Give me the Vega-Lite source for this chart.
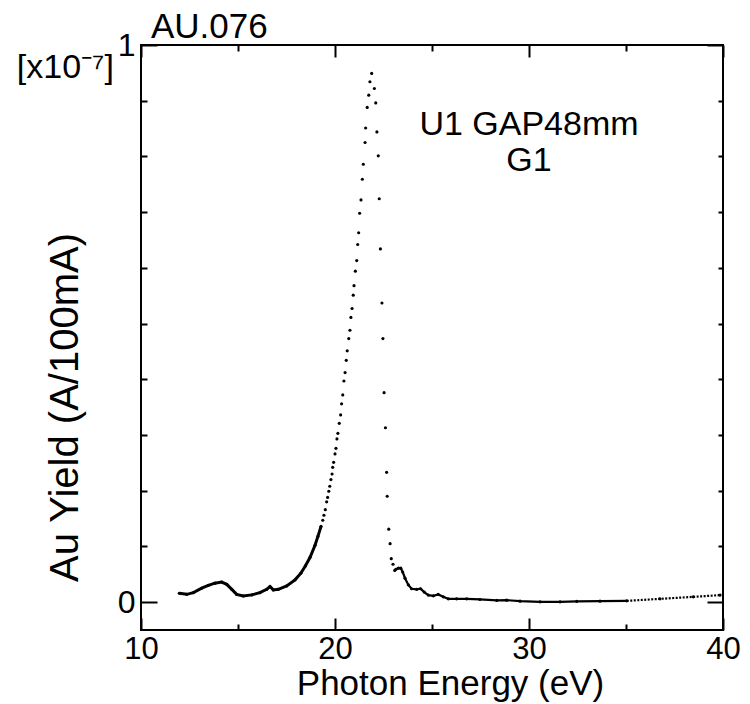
{
  "$schema": "https://vega.github.io/schema/vega-lite/v6.json",
  "width": 582,
  "height": 585,
  "autosize": {"type": "none"},
  "padding": {"left": 141, "top": 45, "right": 27, "bottom": 74},
  "background": "white",
  "config": {"view": {"stroke": "black", "strokeWidth": 2}, "font": "Liberation Sans"},
  "title": {"text": "AU.076", "anchor": "start", "frame": "group", "fontSize": 35, "fontWeight": "normal", "font": "Liberation Sans", "dx": 10, "offset": -16, "color": "black"},
  "data": {"values": [
    {"e": 11.97, "y": 0.016}, {"e": 12.36, "y": 0.014}, {"e": 12.70, "y": 0.017}, {"e": 13.13, "y": 0.025},
    {"e": 13.47, "y": 0.030}, {"e": 13.81, "y": 0.034}, {"e": 14.16, "y": 0.036}, {"e": 14.42, "y": 0.032},
    {"e": 14.68, "y": 0.023}, {"e": 14.93, "y": 0.014}, {"e": 15.27, "y": 0.011}, {"e": 15.71, "y": 0.013},
    {"e": 16.13, "y": 0.017}, {"e": 16.48, "y": 0.023}, {"e": 16.65, "y": 0.028}, {"e": 16.82, "y": 0.022},
    {"e": 17.08, "y": 0.023}, {"e": 17.51, "y": 0.029}, {"e": 17.94, "y": 0.040}, {"e": 18.24, "y": 0.052},
    {"e": 18.47, "y": 0.065}, {"e": 18.71, "y": 0.080}, {"e": 18.97, "y": 0.102}, {"e": 19.12, "y": 0.118},
    {"e": 19.28, "y": 0.136},
    {"e": 19.37, "y": 0.147}, {"e": 19.43, "y": 0.156}, {"e": 19.50, "y": 0.166}, {"e": 19.57, "y": 0.180},
    {"e": 19.62, "y": 0.188}, {"e": 19.68, "y": 0.199}, {"e": 19.73, "y": 0.208}, {"e": 19.79, "y": 0.220},
    {"e": 19.85, "y": 0.230}, {"e": 19.88, "y": 0.242}, {"e": 19.93, "y": 0.251}, {"e": 20.00, "y": 0.266},
    {"e": 20.05, "y": 0.276}, {"e": 20.10, "y": 0.293}, {"e": 20.15, "y": 0.303}, {"e": 20.22, "y": 0.321},
    {"e": 20.29, "y": 0.336}, {"e": 20.34, "y": 0.356}, {"e": 20.40, "y": 0.372}, {"e": 20.46, "y": 0.397},
    {"e": 20.52, "y": 0.412}, {"e": 20.58, "y": 0.434}, {"e": 20.63, "y": 0.451}, {"e": 20.71, "y": 0.473},
    {"e": 20.77, "y": 0.488}, {"e": 20.82, "y": 0.511}, {"e": 20.88, "y": 0.527}, {"e": 20.94, "y": 0.551},
    {"e": 20.98, "y": 0.568}, {"e": 21.05, "y": 0.594}, {"e": 21.12, "y": 0.613}, {"e": 21.17, "y": 0.642},
    {"e": 21.22, "y": 0.663}, {"e": 21.27, "y": 0.698}, {"e": 21.34, "y": 0.722}, {"e": 21.41, "y": 0.759},
    {"e": 21.46, "y": 0.786}, {"e": 21.55, "y": 0.825}, {"e": 21.58, "y": 0.851}, {"e": 21.66, "y": 0.888},
    {"e": 21.74, "y": 0.910}, {"e": 21.80, "y": 0.934}, {"e": 21.89, "y": 0.949},
    {"e": 22.03, "y": 0.922}, {"e": 22.10, "y": 0.896}, {"e": 22.16, "y": 0.844}, {"e": 22.23, "y": 0.801},
    {"e": 22.28, "y": 0.724}, {"e": 22.34, "y": 0.634}, {"e": 22.42, "y": 0.537}, {"e": 22.47, "y": 0.473},
    {"e": 22.53, "y": 0.376}, {"e": 22.60, "y": 0.313}, {"e": 22.66, "y": 0.233}, {"e": 22.69, "y": 0.190},
    {"e": 22.77, "y": 0.131}, {"e": 22.84, "y": 0.105}, {"e": 22.90, "y": 0.078}, {"e": 22.99, "y": 0.068},
    {"e": 23.08, "y": 0.057}, {"e": 23.14, "y": 0.059}, {"e": 23.27, "y": 0.061}, {"e": 23.39, "y": 0.061},
    {"e": 23.49, "y": 0.054}, {"e": 23.61, "y": 0.043}, {"e": 23.78, "y": 0.031}, {"e": 23.95, "y": 0.024},
    {"e": 24.21, "y": 0.023}, {"e": 24.41, "y": 0.024}, {"e": 24.60, "y": 0.018}, {"e": 24.81, "y": 0.0126},
    {"e": 25.07, "y": 0.0113}, {"e": 25.32, "y": 0.0138}, {"e": 25.58, "y": 0.0095}, {"e": 25.84, "y": 0.0059},
    {"e": 26.27, "y": 0.0059}, {"e": 26.79, "y": 0.0059}, {"e": 27.47, "y": 0.0048}, {"e": 28.34, "y": 0.0031},
    {"e": 28.85, "y": 0.0036}, {"e": 29.54, "y": 0.0018}, {"e": 30.57, "y": 0.0005}, {"e": 31.60, "y": 0.0005},
    {"e": 32.46, "y": 0.0013}, {"e": 33.66, "y": 0.0018}, {"e": 35.04, "y": 0.0023}, {"e": 36.75, "y": 0.0059},
    {"e": 38.47, "y": 0.0095}, {"e": 39.85, "y": 0.0126}
  ]},
  "layer": [
    {
      "mark": {"type": "point", "filled": true, "color": "black", "size": 10, "opacity": 1},
      "encoding": {
        "x": {"field": "e", "type": "quantitative",
          "scale": {"domain": [10, 40], "nice": false, "zero": false},
          "axis": {"orient": "bottom", "values": [10, 15, 20, 25, 30, 35, 40],
            "labelExpr": "datum.value % 10 === 0 ? datum.label : ''",
            "domain": false, "grid": false, "tickColor": "black", "tickWidth": 2,
            "tickSize": {"condition": {"test": "datum.value % 10 === 0", "value": -12}, "value": -6},
            "labelFontSize": 31, "labelFont": "Liberation Sans", "labelColor": "black", "labelPadding": 16,
            "labelFlush": false, "labelOverlap": false,
            "title": "Photon Energy (eV)", "titleFontSize": 35, "titleFontWeight": "normal", "titleColor": "black",
            "titleFont": "Liberation Sans", "titleX": 309, "titleY": 64, "titleBaseline": "alphabetic"}},
        "y": {"field": "y", "type": "quantitative",
          "scale": {"domain": [-0.05, 1.0], "nice": false, "zero": false},
          "axis": {"orient": "left", "values": [0, 0.1, 0.2, 0.3, 0.4, 0.5, 0.6, 0.7, 0.8, 0.9, 1],
            "labelExpr": "datum.value === 0 ? '0' : (datum.value === 1 ? '1' : '')",
            "domain": false, "grid": false, "tickColor": "black", "tickWidth": 2,
            "tickSize": {"condition": {"test": "datum.value === 0 || datum.value === 1", "value": -16}, "value": -6},
            "labelFontSize": 32, "labelFont": "Liberation Sans", "labelColor": "black", "labelPadding": 22,
            "labelOverlap": false, "labelFlush": false,
            "title": "Au Yield (A/100mA)", "titleFontSize": 40, "titleFontWeight": "normal", "titleColor": "black",
            "titleFont": "Liberation Sans", "titleX": -76, "titleY": 362, "titleBaseline": "middle", "titleAlign": "center", "titleAngle": -90}}
      }
    },
    {
      "transform": [{"filter": "datum.e <= 19.3"}],
      "mark": {"type": "line", "color": "black", "strokeWidth": 3},
      "encoding": {
        "x": {"field": "e", "type": "quantitative",
          "axis": {"orient": "top", "values": [10, 15, 20, 25, 30, 35, 40], "labels": false, "domain": false, "grid": false,
            "tickColor": "black", "tickWidth": 2, "title": null,
            "tickSize": {"condition": {"test": "datum.value % 10 === 0", "value": -12}, "value": -6}}},
        "y": {"field": "y", "type": "quantitative",
          "axis": {"orient": "right", "values": [0, 0.1, 0.2, 0.3, 0.4, 0.5, 0.6, 0.7, 0.8, 0.9, 1], "labels": false, "domain": false, "grid": false,
            "tickColor": "black", "tickWidth": 2, "title": null,
            "tickSize": {"condition": {"test": "datum.value === 0 || datum.value === 1", "value": -16}, "value": -5}}}
      }
    },
    {
      "transform": [{"filter": "datum.e >= 23.05 && datum.e <= 35.1"}],
      "mark": {"type": "line", "color": "black", "strokeWidth": 2.2},
      "encoding": {
        "x": {"field": "e", "type": "quantitative", "axis": null},
        "y": {"field": "y", "type": "quantitative", "axis": null}
      }
    },
    {
      "transform": [{"filter": "datum.e >= 35"}],
      "mark": {"type": "line", "color": "black", "strokeWidth": 2.2, "strokeDash": [2, 1.5]},
      "encoding": {
        "x": {"field": "e", "type": "quantitative", "axis": null},
        "y": {"field": "y", "type": "quantitative", "axis": null}
      }
    },
    {
      "data": {"values": [{}]},
      "mark": {"type": "text", "fontSize": 34, "font": "Liberation Sans", "color": "black", "align": "center", "baseline": "middle"},
      "encoding": {
        "x": {"datum": 30, "type": "quantitative", "axis": null},
        "y": {"datum": 0.857, "type": "quantitative", "axis": null},
        "text": {"value": "U1 GAP48mm"}
      }
    },
    {
      "data": {"values": [{}]},
      "mark": {"type": "text", "fontSize": 34, "font": "Liberation Sans", "color": "black", "align": "center", "baseline": "middle"},
      "encoding": {
        "x": {"datum": 30, "type": "quantitative", "axis": null},
        "y": {"datum": 0.792, "type": "quantitative", "axis": null},
        "text": {"value": "G1"}
      }
    },
    {
      "data": {"values": [{}]},
      "mark": {"type": "text", "fontSize": 34, "font": "Liberation Sans", "color": "black", "align": "center", "baseline": "middle"},
      "encoding": {
        "x": {"datum": 6.1, "type": "quantitative", "axis": null},
        "y": {"datum": 0.958, "type": "quantitative", "axis": null},
        "text": {"value": "[x10⁻⁷]"}
      }
    }
  ],
  "resolve": {"axis": {"x": "independent", "y": "independent"}}
}
